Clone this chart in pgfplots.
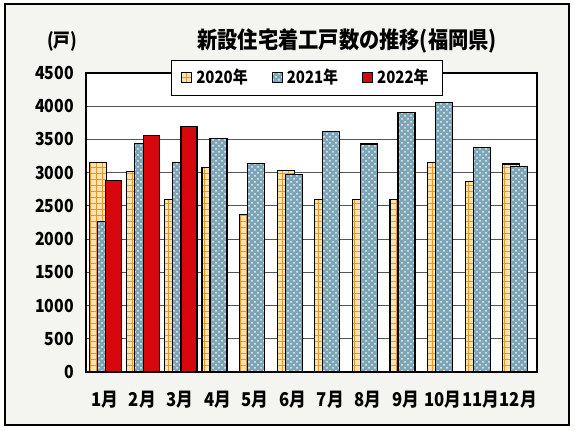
\documentclass[border=0pt]{standalone}
\usepackage{fontspec}
\setmainfont{Noto Sans CJK JP}[FakeStretch=0.88]
\usepackage{pgfplots}
\pgfplotsset{compat=1.18}
\usetikzlibrary{patterns}

\definecolor{c20}{RGB}{232,150,40}
\definecolor{c20bg}{RGB}{252,226,175}
\definecolor{c21}{RGB}{125,165,182}
\definecolor{c22}{RGB}{214,8,14}
\definecolor{paper}{RGB}{244,244,241}
\definecolor{gridc}{RGB}{85,85,85}

\pgfplotstableread{
m y20 y21
1 3150 2260
2 3020 3440
3 2590 3150
4 3080 3510
5 2370 3140
6 3030 2970
7 2590 3620
8 2590 3430
9 2590 3900
10 3150 4050
11 2870 3380
12 3130 3090
}\tblA
\pgfplotstableread{
m y22
1 2880
2 3560
3 3700
}\tblB

\begin{document}
\begin{tikzpicture}[x=1pt,y=1pt]
\useasboundingbox (-43,-29.5) rectangle (244.5,186);
\draw[fill=paper,line width=0.8pt] (-40.5,-26.5) rectangle (241.5,184);
\begin{axis}[
  scale only axis, width=225.5pt, height=149.5pt,
  at={(0,0)}, anchor=south west,
  ymin=0, ymax=4500, ytick={0,500,...,4500},
  xmin=0.5, xmax=12.5, xtick={1,...,12},
  xticklabels={1月,2月,3月,4月,5月,6月,7月,8月,9月,10月,11月,12月},
  ymajorgrids,
  major grid style={gridc,line width=0.5pt},
  axis line style={line width=0.9pt},
  tick style={draw=none},
  axis background/.style={fill=white},
  font=\bfseries\fontsize{9}{10}\selectfont,
  /pgf/number format/assume math mode=true,
  /pgf/number format/set thousands separator={},
  yticklabel style={xshift=-2.5pt},
  xticklabel style={yshift=-5pt,inner sep=0pt,font=\bfseries\fontsize{9.5}{10}\selectfont},
  ylabel={(戸)}, ylabel style={rotate=-90,at={(rel axis cs:-0.053,1.107)},anchor=center,font=\bfseries\fontsize{9.5}{10}\selectfont},
  legend style={at={(rel axis cs:0.49,1.045)},anchor=north,draw=black,line width=0.6pt,fill=white,
    font=\bfseries\fontsize{8.5}{10}\selectfont,inner xsep=5pt,inner ysep=2.5pt},
  legend columns=3,
  /tikz/every even column/.append style={column sep=10pt},
  ybar, bar width=8.5pt,
  legend image code/.code={\draw[#1,line width=0.5pt,bar shift=0pt] (0pt,-2.5pt) rectangle (5pt,2.5pt);},
  clip=false,
]
\addplot[draw=black,line width=0.6pt,fill=c20bg,postaction={pattern=grid,pattern color=c20},bar shift=-3.5pt]
  table[x=m,y=y20]{\tblA};
\addplot[draw=black,line width=0.6pt,fill=c21,postaction={pattern=crosshatch dots,pattern color=white!85!c21},bar shift=0.5pt]
  table[x=m,y=y21]{\tblA};
\addplot[draw=black,line width=0.6pt,fill=c22,bar shift=4.5pt,bar width=8pt]
  table[x=m,y=y22]{\tblB};
\legend{2020年,2021年,2022年}
\node[font=\bfseries\fontsize{11.5}{13}\selectfont] at (rel axis cs:0.579,1.107) {新設住宅着工戸数の推移(福岡県)};
\end{axis}
\end{tikzpicture}
\end{document}
